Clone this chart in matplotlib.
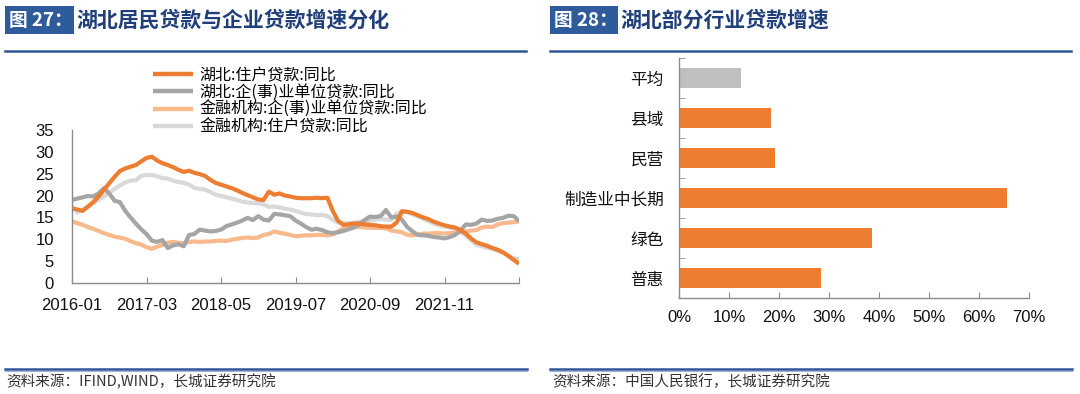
import numpy as np
import pandas as pd
import matplotlib
matplotlib.use("Agg")
import matplotlib.pyplot as plt
from matplotlib.lines import Line2D
from matplotlib.patches import Rectangle

CJK = ['Noto Sans CJK SC', 'DejaVu Sans']
NUM = ['Liberation Sans', 'DejaVu Sans']

# ---------------- data: left chart ----------------
months = pd.period_range('2016-01', '2023-01', freq='M').strftime('%Y-%m').tolist()

hb_household = [17.1, 16.8, 16.5, 17.5, 18.5, 19.8, 21.3, 22.8, 24.3, 25.6,
                26.2, 26.6, 27.0, 27.8, 28.6, 28.9, 28.0, 27.4, 27.0, 26.5,
                25.9, 25.4, 25.7, 25.2, 24.9, 24.5, 23.6, 22.9, 22.5, 22.1,
                21.7, 21.2, 20.6, 20.1, 19.6, 19.1, 19.0, 20.9, 20.2, 20.5,
                20.0, 19.8, 19.5, 19.4, 19.4, 19.4, 19.5, 19.4, 19.5, 16.5,
                14.2, 13.3, 13.4, 13.6, 13.6, 13.4, 13.3, 13.2, 13.0, 12.9,
                12.9, 13.8, 16.4, 16.3, 16.0, 15.5, 15.0, 14.6, 14.0, 13.6,
                13.2, 12.9, 12.7, 12.1, 11.3, 10.2, 9.3, 8.9, 8.5, 8.0,
                7.6, 7.0, 6.2, 5.3, 4.4]

hb_corp = [19.0, 19.3, 19.6, 19.9, 19.8, 20.5, 21.7, 20.5, 18.8, 18.5,
           16.5, 15.0, 13.6, 12.3, 11.2, 9.7, 9.4, 9.8, 8.0, 8.6,
           8.9, 8.4, 11.0, 11.2, 12.2, 12.0, 11.8, 11.9, 12.2, 13.0,
           13.4, 13.8, 14.3, 14.9, 14.4, 15.3, 14.5, 14.3, 15.8, 15.7,
           15.5, 15.3, 14.3, 13.6, 12.8, 12.2, 12.4, 12.1, 11.6, 11.4,
           11.6, 11.9, 12.3, 12.7, 13.4, 14.4, 15.2, 15.1, 15.3, 16.7,
           15.0, 15.2, 14.5, 12.8, 11.8, 11.0, 10.9, 10.8, 10.5, 10.4,
           10.2, 10.5, 11.0, 12.0, 13.4, 13.3, 13.6, 14.5, 14.2, 14.3,
           14.7, 14.9, 15.4, 15.3, 14.2]

fin_corp = [14.1, 13.7, 13.3, 12.8, 12.4, 11.9, 11.4, 11.0, 10.6, 10.4,
            10.1, 9.6, 9.1, 8.8, 8.2, 7.8, 8.3, 8.7, 9.2, 9.4,
            9.2, 9.1, 9.4, 9.5, 9.4, 9.5, 9.5, 9.6, 9.7, 9.6,
            9.9, 10.1, 10.3, 10.4, 10.3, 10.4, 11.0, 11.2, 11.8, 11.5,
            11.3, 11.0, 10.7, 10.8, 10.9, 10.9, 11.0, 11.0, 10.9, 11.1,
            11.8, 12.5, 12.9, 12.9, 12.8, 12.7, 12.6, 12.6, 12.6, 12.5,
            12.0, 11.8, 11.6, 11.0, 10.9, 11.1, 11.3, 11.3, 11.4, 11.4,
            11.3, 11.4, 11.5, 11.6, 11.8, 12.0, 12.1, 12.7, 12.9, 12.8,
            13.4, 13.7, 13.8, 13.9, 14.1]

fin_household = [17.5, 16.1, 16.8, 17.5, 18.3, 19.0, 19.8, 20.6, 21.5, 22.3,
                 23.0, 23.4, 23.5, 24.5, 24.7, 24.7, 24.4, 24.0, 23.9, 23.4,
                 23.1, 22.9, 22.5, 21.8, 21.5, 21.4, 20.8, 20.2, 19.9, 19.6,
                 19.3, 19.0, 18.6, 18.4, 18.3, 18.2, 18.0, 17.4, 17.5, 17.3,
                 17.0, 16.8, 16.5, 16.1, 15.8, 15.7, 15.5, 15.6, 15.3, 14.5,
                 13.8, 13.7, 13.7, 13.8, 14.0, 14.1, 14.3, 14.5, 14.6, 14.5,
                 14.4, 15.8, 16.4, 16.2, 15.7, 15.2, 14.7, 14.1, 13.6, 13.2,
                 12.9, 12.7, 12.3, 11.8, 10.8, 9.8, 8.8, 8.4, 8.0, 7.8,
                 7.3, 7.0, 6.2, 5.7, 5.5]

series_labels = ['湖北:住户贷款:同比', '湖北:企(事)业单位贷款:同比',
                 '金融机构:企(事)业单位贷款:同比', '金融机构:住户贷款:同比']
series_colors = ['#ED7D31', '#A5A5A5', '#F8B98C', '#D9D9D9']
x_tick_labels = ['2016-01', '2017-03', '2018-05', '2019-07', '2020-09', '2021-11']

# ---------------- data: right chart ----------------
sectors = ['平均', '县域', '民营', '制造业中长期', '绿色', '普惠']
growth = [12.3, 18.4, 19.2, 65.6, 38.6, 28.3]
bar_colors = ['#BFBFBF', '#ED7D31', '#ED7D31', '#ED7D31', '#ED7D31', '#ED7D31']

# ---------------- figure ----------------
W, H = 1080, 394
fig = plt.figure(figsize=(W / 100, H / 100), dpi=100)
fig.patch.set_facecolor('white')

def fx(px):
    return px / W

def fy(py):
    return 1 - py / H

NAVY = '#203F7A'
BOX = '#2E5B9A'
RULE = '#2F5597'

# headers
for (x0, x1, title, num, rx0, rx1) in [(5, 74, '湖北居民贷款与企业贷款增速分化', '图 27：', 5, 526),
                                         (550, 618, '湖北部分行业贷款增速', '图 28：', 550, 1071)]:
    fig.add_artist(Rectangle((fx(x0), fy(34)), fx(x1 - x0), (34 - 6) / H,
                             transform=fig.transFigure, facecolor=BOX, edgecolor='none'))
    fig.text(fx(x0 + 4), fy(20), num, color='white', fontsize=13.5, fontweight='bold',
             family=CJK, va='center', ha='left')
    fig.text(fx(x1 + 2), fy(20), title, color=NAVY, fontsize=15, fontweight='bold',
             family=CJK, va='center', ha='left')
    fig.add_artist(Line2D([fx(rx0), fx(rx1)], [fy(50.5), fy(50.5)], transform=fig.transFigure,
                          color=RULE, lw=1.8))
    # bottom rules
    fig.add_artist(Line2D([fx(rx0), fx(rx1 + 1)], [fy(368.5), fy(368.5)], transform=fig.transFigure,
                          color=RULE, lw=1.8))
    fig.add_artist(Line2D([fx(rx0), fx(rx1 + 1)], [fy(370.5), fy(370.5)], transform=fig.transFigure,
                          color='#9DB3DA', lw=0.8))

fig.text(fx(6), fy(382), '资料来源：IFIND,WIND，长城证券研究院', fontsize=10.5, family=CJK,
         style='italic', color='#333333', va='center', ha='left')
fig.text(fx(552), fy(382), '资料来源：中国人民银行，长城证券研究院', fontsize=10.5, family=CJK,
         style='italic', color='#333333', va='center', ha='left')

# ---------------- left chart ----------------
axL = fig.add_axes([fx(72), fy(283), fx(519 - 72), (283 - 130) / H])
xs = np.arange(len(months))
data_list = [hb_household, hb_corp, fin_corp, fin_household]
lines = {}
for i in [3, 2, 1, 0]:
    ln, = axL.plot(xs, data_list[i], color=series_colors[i], lw=3.0, solid_capstyle='butt',
                   label=series_labels[i])
    lines[i] = ln
axL.set_xlim(0, len(months) - 1)
axL.set_ylim(0, 35)
axL.set_yticks(np.arange(0, 36, 5))
axL.set_xticks(np.arange(0, len(months), 14))
axL.set_xticklabels(x_tick_labels + [''])
for s in ['top', 'right']:
    axL.spines[s].set_visible(False)
for s in ['left', 'bottom']:
    axL.spines[s].set_color('#8C8C8C')
    axL.spines[s].set_linewidth(1.0)
axL.tick_params(axis='x', direction='in', length=4, color='#8C8C8C', pad=11, labelsize=12)
axL.tick_params(axis='y', length=0, pad=13, labelsize=12)
for t in axL.get_xticklabels() + axL.get_yticklabels():
    t.set_family(NUM)
    t.set_color('#111111')

leg = fig.legend([lines[i] for i in range(4)], series_labels, loc='upper left',
                 bbox_to_anchor=(fx(153), fy(67)), frameon=False,
                 prop={'family': CJK, 'size': 11.5}, handlelength=2.5, handletextpad=0.4,
                 labelspacing=0.0, borderpad=0, borderaxespad=0)
for h in leg.legend_handles:
    h.set_linewidth(3.2)

# ---------------- right chart ----------------
axR = fig.add_axes([fx(679), fy(298), fx(1029 - 679), (298 - 58) / H])
ys = np.arange(len(sectors))
axR.barh(ys, growth, height=0.5, color=bar_colors)
axR.set_ylim(len(sectors) - 0.5, -0.5)
axR.set_xlim(0, 70)
axR.set_xticks(np.arange(0, 71, 10))
axR.set_xticklabels([f'{v}%' for v in range(0, 71, 10)])
axR.set_yticks(ys)
axR.set_yticklabels(sectors)
axR.set_yticks(np.arange(-0.5, len(sectors), 1), minor=True)
for s in ['top', 'right']:
    axR.spines[s].set_visible(False)
for s in ['left', 'bottom']:
    axR.spines[s].set_color('#8C8C8C')
    axR.spines[s].set_linewidth(1.0)
axR.tick_params(axis='y', which='major', length=0, pad=11, labelsize=12)
axR.tick_params(axis='y', which='minor', direction='in', length=4, color='#8C8C8C')
axR.tick_params(axis='x', direction='in', length=4, color='#8C8C8C', pad=9, labelsize=12)
for t in axR.get_yticklabels():
    t.set_family(CJK)
    t.set_color('#111111')
for t in axR.get_xticklabels():
    t.set_family(NUM)
    t.set_color('#111111')

fig.savefig('out.png', dpi=100, facecolor='white')
